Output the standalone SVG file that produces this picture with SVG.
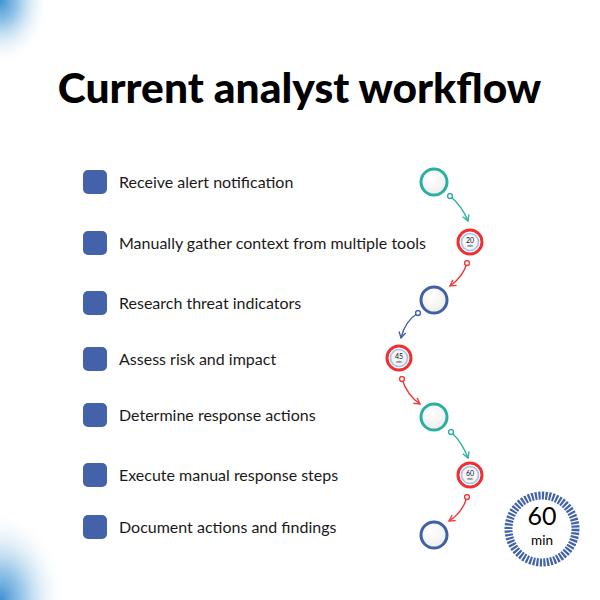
<svg xmlns="http://www.w3.org/2000/svg" width="600" height="600" viewBox="0 0 600 600">
<defs>
<radialGradient id="cornerTL" cx="0" cy="0" r="1" gradientUnits="userSpaceOnUse" gradientTransform="translate(0,0) scale(50,65)">
<stop offset="0" stop-color="#3a8fcf"/><stop offset="0.35" stop-color="#6fb0e0" stop-opacity="0.75"/><stop offset="1" stop-color="#ffffff" stop-opacity="0"/>
</radialGradient>
<radialGradient id="cornerBL" cx="0" cy="0" r="1" gradientUnits="userSpaceOnUse" gradientTransform="translate(0,600) scale(65,90)">
<stop offset="0" stop-color="#3a8fcf"/><stop offset="0.35" stop-color="#6fb0e0" stop-opacity="0.7"/><stop offset="1" stop-color="#ffffff" stop-opacity="0"/>
</radialGradient>
<radialGradient id="disc" cx="0.4" cy="0.35" r="0.75">
<stop offset="0" stop-color="#ffffff"/><stop offset="1" stop-color="#ececec"/>
</radialGradient>
<marker id="arrTeal" viewBox="0 0 10 10" refX="8" refY="5" markerWidth="6" markerHeight="6" orient="auto"><path d="M1,1 L8,5 L1,9" fill="none" stroke="#2bb0a0" stroke-width="1.6"/></marker>
<marker id="arrRed" viewBox="0 0 10 10" refX="8" refY="5" markerWidth="6" markerHeight="6" orient="auto"><path d="M1,1 L8,5 L1,9" fill="none" stroke="#f03a3a" stroke-width="1.6"/></marker>
<marker id="arrBlue" viewBox="0 0 10 10" refX="8" refY="5" markerWidth="6" markerHeight="6" orient="auto"><path d="M1,1 L8,5 L1,9" fill="none" stroke="#3f5fa8" stroke-width="1.6"/></marker>
<marker id="dotTeal" viewBox="0 0 10 10" refX="5" refY="5" markerWidth="5" markerHeight="5"><circle cx="5" cy="5" r="3.5" fill="#fff" stroke="#2bb0a0" stroke-width="2"/></marker>
<marker id="dotRed" viewBox="0 0 10 10" refX="5" refY="5" markerWidth="5" markerHeight="5"><circle cx="5" cy="5" r="3.5" fill="#fff" stroke="#f03a3a" stroke-width="2"/></marker>
<marker id="dotBlue" viewBox="0 0 10 10" refX="5" refY="5" markerWidth="5" markerHeight="5"><circle cx="5" cy="5" r="3.5" fill="#fff" stroke="#3f5fa8" stroke-width="2"/></marker>
</defs>
<style>
.title{font-family:Lato,"Open Sans",sans-serif;font-weight:900;font-size:42.5px;fill:#000;text-anchor:middle}
.step{font-family:Lato,"Open Sans",sans-serif;font-size:16px;fill:#1a1a1a}
.sq{fill:#4362a9}
.ring{fill:url(#disc);stroke-width:3}
.teal{stroke:#2bb0a0}
.blue{stroke:#3f5fa8}
.red{stroke:#f03030}
.badge{fill:#f4f6fb;stroke:#a9c0ec;stroke-width:1.6}
.bn{font-family:Lato,"Open Sans",sans-serif;font-size:7px;fill:#111;text-anchor:middle}
.bm{font-family:Lato,"Open Sans",sans-serif;font-size:3.5px;fill:#111;text-anchor:middle}
.con{fill:none;stroke-width:1.4}
</style>
<rect width="600" height="600" fill="#fff"/>
<rect width="100" height="130" fill="url(#cornerTL)"/>
<rect x="0" y="480" width="120" height="120" fill="url(#cornerBL)"/>
<text class="title" x="299.5" y="103">Current analyst workflow</text>

<g id="step1"><rect class="sq" x="83" y="170" width="24" height="24" rx="5"/><text class="step" x="119" y="187.5">Receive alert notification</text></g>
<g id="step2"><rect class="sq" x="83" y="231" width="24" height="24" rx="5"/><text class="step" x="119" y="248.5">Manually gather context from multiple tools</text></g>
<g id="step3"><rect class="sq" x="83" y="291" width="24" height="24" rx="5"/><text class="step" x="119" y="308.5">Research threat indicators</text></g>
<g id="step4"><rect class="sq" x="83" y="347" width="24" height="24" rx="5"/><text class="step" x="119" y="364.5">Assess risk and impact</text></g>
<g id="step5"><rect class="sq" x="83" y="403" width="24" height="24" rx="5"/><text class="step" x="119" y="420.5">Determine response actions</text></g>
<g id="step6"><rect class="sq" x="83" y="463" width="24" height="24" rx="5"/><text class="step" x="119" y="480.5">Execute manual response steps</text></g>
<g id="step7"><rect class="sq" x="83" y="515" width="24" height="24" rx="5"/><text class="step" x="119" y="532.5">Document actions and findings</text></g>

<g id="node1"><circle class="ring teal" cx="434" cy="182" r="13"/></g>
<g id="node2"><circle cx="470" cy="242" r="12" fill="#fff" stroke="#f03030" stroke-width="3"/><circle class="badge" cx="470" cy="242" r="8.5"/><text class="bn" x="470" y="242.5">20</text><text class="bm" x="470" y="246.5">min</text></g>
<g id="node3"><circle class="ring blue" cx="434" cy="300" r="13"/></g>
<g id="node4"><circle cx="399" cy="358" r="12" fill="#fff" stroke="#f03030" stroke-width="3"/><circle class="badge" cx="399" cy="358" r="8.5"/><text class="bn" x="399" y="358.5">45</text><text class="bm" x="399" y="362.5">min</text></g>
<g id="node5"><circle class="ring teal" cx="434" cy="417" r="13"/></g>
<g id="node6"><circle cx="470" cy="475" r="12" fill="#fff" stroke="#f03030" stroke-width="3"/><circle class="badge" cx="470" cy="475" r="8.5"/><text class="bn" x="470" y="475.5">60</text><text class="bm" x="470" y="479.5">min</text></g>
<g id="node7"><circle class="ring blue" cx="434" cy="535" r="13"/></g>

<g id="connectors">
<path class="con" stroke="#2bb0a0" d="M450,196 Q462,206 468,221" marker-start="url(#dotTeal)" marker-end="url(#arrTeal)"/>
<path class="con" stroke="#f03a3a" d="M467,263 Q463,277 450,286" marker-start="url(#dotRed)" marker-end="url(#arrRed)"/>
<path class="con" stroke="#3f5fa8" d="M418,313 Q405,321 401,338" marker-start="url(#dotBlue)" marker-end="url(#arrBlue)"/>
<path class="con" stroke="#f03a3a" d="M402,379 Q407,395 420,404" marker-start="url(#dotRed)" marker-end="url(#arrRed)"/>
<path class="con" stroke="#2bb0a0" d="M451,432 Q462,442 468,458" marker-start="url(#dotTeal)" marker-end="url(#arrTeal)"/>
<path class="con" stroke="#f03a3a" d="M467,497 Q463,512 449,521" marker-start="url(#dotRed)" marker-end="url(#arrRed)"/>
</g>

<g id="timer">
<circle cx="542" cy="529" r="33.5" fill="#fff" stroke="#4362a9" stroke-width="8" stroke-dasharray="2.2 1.3"/>
<text x="542" y="525" font-family="Lato,'Open Sans',sans-serif" font-size="25" fill="#000" text-anchor="middle">60</text>
<text x="542" y="545" font-family="Lato,'Open Sans',sans-serif" font-size="13.5" fill="#000" text-anchor="middle">min</text>
</g>
</svg>
